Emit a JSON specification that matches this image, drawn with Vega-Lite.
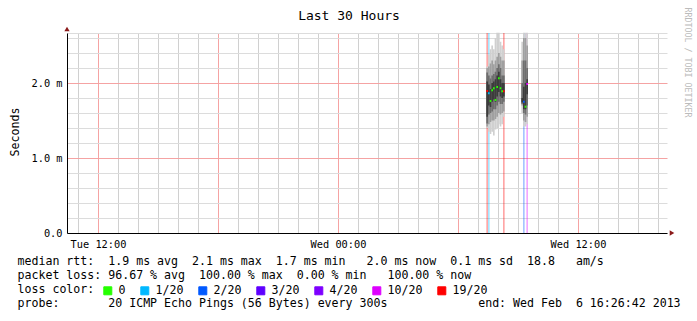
{
  "$schema": "https://vega.github.io/schema/vega-lite/v6.json",
  "width": 600,
  "height": 200,
  "autosize": {"type": "none"},
  "padding": {"left": 67, "top": 33, "right": 30, "bottom": 88},
  "background": "white",
  "config": {"view": {"stroke": null}, "font": "DejaVu Sans Mono"},
  "datasets": {
    "smoke": [
      {"t": "2013-02-06T07:25:00", "t2": "2013-02-06T07:30:00", "lo": 1.40, "hi": 2.22, "b": "b1"},
      {"t": "2013-02-06T07:30:00", "t2": "2013-02-06T07:35:00", "lo": 1.35, "hi": 2.38, "b": "b1"},
      {"t": "2013-02-06T07:35:00", "t2": "2013-02-06T07:40:00", "lo": 1.32, "hi": 2.45, "b": "b1"},
      {"t": "2013-02-06T07:40:00", "t2": "2013-02-06T07:45:00", "lo": 1.35, "hi": 2.50, "b": "b1"},
      {"t": "2013-02-06T07:45:00", "t2": "2013-02-06T07:50:00", "lo": 1.30, "hi": 2.45, "b": "b1"},
      {"t": "2013-02-06T07:50:00", "t2": "2013-02-06T07:55:00", "lo": 1.38, "hi": 2.60, "b": "b1"},
      {"t": "2013-02-06T07:55:00", "t2": "2013-02-06T08:00:00", "lo": 1.40, "hi": 2.67, "b": "b1"},
      {"t": "2013-02-06T08:00:00", "t2": "2013-02-06T08:05:00", "lo": 1.45, "hi": 2.67, "b": "b1"},
      {"t": "2013-02-06T08:05:00", "t2": "2013-02-06T08:10:00", "lo": 1.42, "hi": 2.55, "b": "b1"},
      {"t": "2013-02-06T08:10:00", "t2": "2013-02-06T08:15:00", "lo": 1.45, "hi": 2.50, "b": "b1"},
      {"t": "2013-02-06T08:15:00", "t2": "2013-02-06T08:20:00", "lo": 1.55, "hi": 2.45, "b": "b1"},
      {"t": "2013-02-06T09:10:00", "t2": "2013-02-06T09:15:00", "lo": 1.60, "hi": 2.55, "b": "b1"},
      {"t": "2013-02-06T09:15:00", "t2": "2013-02-06T09:20:00", "lo": 1.42, "hi": 2.67, "b": "b1"},
      {"t": "2013-02-06T09:20:00", "t2": "2013-02-06T09:25:00", "lo": 1.42, "hi": 2.67, "b": "b1"},
      {"t": "2013-02-06T09:25:00", "t2": "2013-02-06T09:30:00", "lo": 1.45, "hi": 2.67, "b": "b1"},
      {"t": "2013-02-06T07:25:00", "t2": "2013-02-06T07:30:00", "lo": 1.42, "hi": 2.20, "b": "b2"},
      {"t": "2013-02-06T07:30:00", "t2": "2013-02-06T07:35:00", "lo": 1.45, "hi": 2.22, "b": "b2"},
      {"t": "2013-02-06T07:35:00", "t2": "2013-02-06T07:40:00", "lo": 1.48, "hi": 2.26, "b": "b2"},
      {"t": "2013-02-06T07:40:00", "t2": "2013-02-06T07:45:00", "lo": 1.50, "hi": 2.30, "b": "b2"},
      {"t": "2013-02-06T07:45:00", "t2": "2013-02-06T07:50:00", "lo": 1.50, "hi": 2.25, "b": "b2"},
      {"t": "2013-02-06T07:50:00", "t2": "2013-02-06T07:55:00", "lo": 1.52, "hi": 2.30, "b": "b2"},
      {"t": "2013-02-06T07:55:00", "t2": "2013-02-06T08:00:00", "lo": 1.55, "hi": 2.35, "b": "b2"},
      {"t": "2013-02-06T08:00:00", "t2": "2013-02-06T08:05:00", "lo": 1.60, "hi": 2.40, "b": "b2"},
      {"t": "2013-02-06T08:05:00", "t2": "2013-02-06T08:10:00", "lo": 1.58, "hi": 2.35, "b": "b2"},
      {"t": "2013-02-06T08:10:00", "t2": "2013-02-06T08:15:00", "lo": 1.60, "hi": 2.30, "b": "b2"},
      {"t": "2013-02-06T08:15:00", "t2": "2013-02-06T08:20:00", "lo": 1.62, "hi": 2.30, "b": "b2"},
      {"t": "2013-02-06T09:10:00", "t2": "2013-02-06T09:15:00", "lo": 1.70, "hi": 2.30, "b": "b2"},
      {"t": "2013-02-06T09:15:00", "t2": "2013-02-06T09:20:00", "lo": 1.50, "hi": 2.60, "b": "b2"},
      {"t": "2013-02-06T09:20:00", "t2": "2013-02-06T09:25:00", "lo": 1.48, "hi": 2.60, "b": "b2"},
      {"t": "2013-02-06T09:25:00", "t2": "2013-02-06T09:30:00", "lo": 1.55, "hi": 2.50, "b": "b2"},
      {"t": "2013-02-06T07:25:00", "t2": "2013-02-06T07:30:00", "lo": 1.46, "hi": 2.14, "b": "b3"},
      {"t": "2013-02-06T07:30:00", "t2": "2013-02-06T07:35:00", "lo": 1.58, "hi": 2.10, "b": "b3"},
      {"t": "2013-02-06T07:35:00", "t2": "2013-02-06T07:40:00", "lo": 1.60, "hi": 2.06, "b": "b3"},
      {"t": "2013-02-06T07:40:00", "t2": "2013-02-06T07:45:00", "lo": 1.62, "hi": 2.10, "b": "b3"},
      {"t": "2013-02-06T07:45:00", "t2": "2013-02-06T07:50:00", "lo": 1.65, "hi": 2.12, "b": "b3"},
      {"t": "2013-02-06T07:50:00", "t2": "2013-02-06T07:55:00", "lo": 1.65, "hi": 2.15, "b": "b3"},
      {"t": "2013-02-06T07:55:00", "t2": "2013-02-06T08:00:00", "lo": 1.70, "hi": 2.20, "b": "b3"},
      {"t": "2013-02-06T08:00:00", "t2": "2013-02-06T08:05:00", "lo": 1.75, "hi": 2.25, "b": "b3"},
      {"t": "2013-02-06T08:05:00", "t2": "2013-02-06T08:10:00", "lo": 1.72, "hi": 2.20, "b": "b3"},
      {"t": "2013-02-06T08:10:00", "t2": "2013-02-06T08:15:00", "lo": 1.72, "hi": 2.10, "b": "b3"},
      {"t": "2013-02-06T08:15:00", "t2": "2013-02-06T08:20:00", "lo": 1.75, "hi": 2.10, "b": "b3"},
      {"t": "2013-02-06T09:10:00", "t2": "2013-02-06T09:15:00", "lo": 1.72, "hi": 2.00, "b": "b3"},
      {"t": "2013-02-06T09:15:00", "t2": "2013-02-06T09:20:00", "lo": 1.60, "hi": 2.30, "b": "b3"},
      {"t": "2013-02-06T09:20:00", "t2": "2013-02-06T09:25:00", "lo": 1.58, "hi": 2.30, "b": "b3"},
      {"t": "2013-02-06T09:25:00", "t2": "2013-02-06T09:30:00", "lo": 1.70, "hi": 2.20, "b": "b3"},
      {"t": "2013-02-06T07:25:00", "t2": "2013-02-06T07:30:00", "lo": 1.55, "hi": 2.02, "b": "b4"},
      {"t": "2013-02-06T07:30:00", "t2": "2013-02-06T07:35:00", "lo": 1.70, "hi": 1.98, "b": "b4"},
      {"t": "2013-02-06T07:35:00", "t2": "2013-02-06T07:40:00", "lo": 1.68, "hi": 1.92, "b": "b4"},
      {"t": "2013-02-06T07:40:00", "t2": "2013-02-06T07:45:00", "lo": 1.75, "hi": 2.00, "b": "b4"},
      {"t": "2013-02-06T07:45:00", "t2": "2013-02-06T07:50:00", "lo": 1.78, "hi": 2.02, "b": "b4"},
      {"t": "2013-02-06T07:50:00", "t2": "2013-02-06T07:55:00", "lo": 1.75, "hi": 2.05, "b": "b4"},
      {"t": "2013-02-06T07:55:00", "t2": "2013-02-06T08:00:00", "lo": 1.82, "hi": 2.10, "b": "b4"},
      {"t": "2013-02-06T08:00:00", "t2": "2013-02-06T08:05:00", "lo": 1.88, "hi": 2.15, "b": "b4"},
      {"t": "2013-02-06T08:05:00", "t2": "2013-02-06T08:10:00", "lo": 1.82, "hi": 2.05, "b": "b4"},
      {"t": "2013-02-06T08:10:00", "t2": "2013-02-06T08:15:00", "lo": 1.80, "hi": 2.00, "b": "b4"},
      {"t": "2013-02-06T08:15:00", "t2": "2013-02-06T08:20:00", "lo": 1.82, "hi": 2.00, "b": "b4"},
      {"t": "2013-02-06T09:10:00", "t2": "2013-02-06T09:15:00", "lo": 1.74, "hi": 1.80, "b": "b4"},
      {"t": "2013-02-06T09:15:00", "t2": "2013-02-06T09:20:00", "lo": 1.65, "hi": 1.95, "b": "b4"},
      {"t": "2013-02-06T09:20:00", "t2": "2013-02-06T09:25:00", "lo": 1.65, "hi": 2.00, "b": "b4"},
      {"t": "2013-02-06T09:25:00", "t2": "2013-02-06T09:30:00", "lo": 1.85, "hi": 2.05, "b": "b4"}
    ],
    "median": [
      {"t": "2013-02-06T07:25:00", "t2": "2013-02-06T07:30:00", "m": 1.893, "loss": "19/20"},
      {"t": "2013-02-06T07:30:00", "t2": "2013-02-06T07:35:00", "m": 1.863, "loss": "1/20"},
      {"t": "2013-02-06T07:35:00", "t2": "2013-02-06T07:40:00", "m": 1.760, "loss": "0"},
      {"t": "2013-02-06T07:40:00", "t2": "2013-02-06T07:45:00", "m": 1.903, "loss": "0"},
      {"t": "2013-02-06T07:45:00", "t2": "2013-02-06T07:50:00", "m": 1.930, "loss": "0"},
      {"t": "2013-02-06T07:50:00", "t2": "2013-02-06T07:55:00", "m": 1.773, "loss": "0"},
      {"t": "2013-02-06T07:55:00", "t2": "2013-02-06T08:00:00", "m": 1.947, "loss": "0"},
      {"t": "2013-02-06T08:00:00", "t2": "2013-02-06T08:05:00", "m": 2.063, "loss": "0"},
      {"t": "2013-02-06T08:05:00", "t2": "2013-02-06T08:10:00", "m": 1.930, "loss": "0"},
      {"t": "2013-02-06T08:10:00", "t2": "2013-02-06T08:15:00", "m": 1.890, "loss": "0"},
      {"t": "2013-02-06T08:15:00", "t2": "2013-02-06T08:20:00", "m": 1.890, "loss": "19/20"},
      {"t": "2013-02-06T09:15:00", "t2": "2013-02-06T09:20:00", "m": 1.750, "loss": "2/20"},
      {"t": "2013-02-06T09:20:00", "t2": "2013-02-06T09:25:00", "m": 1.684, "loss": "0"},
      {"t": "2013-02-06T09:25:00", "t2": "2013-02-06T09:30:00", "m": 1.987, "loss": "10/20"}
    ],
    "one": [{"k": 1}]
  },
  "layer": [
    {
      "data": {"name": "median"},
      "transform": [{"filter": "datum.loss != '0'"}],
      "mark": {"type": "rect", "opacity": 0.35},
      "encoding": {
        "x": {"field": "t", "type": "temporal",
              "scale": {"domain": [{"year": 2013, "month": 2, "date": 5, "hours": 10, "minutes": 27}, {"year": 2013, "month": 2, "date": 6, "hours": 16, "minutes": 27}]},
              "axis": {"orient": "bottom",
                       "values": [
                         {"year": 2013, "month": 2, "date": 5, "hours": 11}, {"year": 2013, "month": 2, "date": 5, "hours": 13},
                         {"year": 2013, "month": 2, "date": 5, "hours": 14}, {"year": 2013, "month": 2, "date": 5, "hours": 15},
                         {"year": 2013, "month": 2, "date": 5, "hours": 16}, {"year": 2013, "month": 2, "date": 5, "hours": 17},
                         {"year": 2013, "month": 2, "date": 5, "hours": 19}, {"year": 2013, "month": 2, "date": 5, "hours": 20},
                         {"year": 2013, "month": 2, "date": 5, "hours": 21}, {"year": 2013, "month": 2, "date": 5, "hours": 22},
                         {"year": 2013, "month": 2, "date": 5, "hours": 23}, {"year": 2013, "month": 2, "date": 6, "hours": 1},
                         {"year": 2013, "month": 2, "date": 6, "hours": 2}, {"year": 2013, "month": 2, "date": 6, "hours": 3},
                         {"year": 2013, "month": 2, "date": 6, "hours": 4}, {"year": 2013, "month": 2, "date": 6, "hours": 5},
                         {"year": 2013, "month": 2, "date": 6, "hours": 7}, {"year": 2013, "month": 2, "date": 6, "hours": 8},
                         {"year": 2013, "month": 2, "date": 6, "hours": 9}, {"year": 2013, "month": 2, "date": 6, "hours": 10},
                         {"year": 2013, "month": 2, "date": 6, "hours": 11}, {"year": 2013, "month": 2, "date": 6, "hours": 13},
                         {"year": 2013, "month": 2, "date": 6, "hours": 14}, {"year": 2013, "month": 2, "date": 6, "hours": 15},
                         {"year": 2013, "month": 2, "date": 6, "hours": 16}
                       ],
                       "grid": true, "gridColor": "#d0d0d0", "gridWidth": 1, "gridOpacity": 1,
                       "domain": false, "ticks": false, "labels": false, "title": null}},
        "x2": {"field": "t2"},
        "y": {"datum": 0, "type": "quantitative", "axis": null, "scale": {"domain": [0, 2.6667], "nice": false, "zero": false}},
        "y2": {"datum": 2.6667},
        "color": {"field": "loss", "type": "nominal",
                  "scale": {"domain": ["0", "1/20", "2/20", "3/20", "4/20", "10/20", "19/20"],
                            "range": ["#26ff00", "#00b8ff", "#0059ff", "#5e00ff", "#7e00ff", "#dd00ff", "#ff0000"]},
                  "legend": {"orient": "none", "legendX": 35, "legendY": 252, "direction": "horizontal", "title": null,
                             "padding": 0, "columnPadding": 12, "gridAlign": "none", "labelOffset": 5, "symbolType": "square", "symbolSize": 64,
                             "symbolOpacity": 1, "symbolStrokeColor": "black", "symbolStrokeWidth": 1,
                             "labelFont": "DejaVu Sans Mono", "labelFontSize": 11.6, "labelColor": "black"}}
      }
    },
    {
      "data": {"name": "smoke"},
      "mark": {"type": "rect"},
      "encoding": {
        "x": {"field": "t", "type": "temporal",
              "scale": {"domain": [{"year": 2013, "month": 2, "date": 5, "hours": 10, "minutes": 27}, {"year": 2013, "month": 2, "date": 6, "hours": 16, "minutes": 27}]},
              "axis": {"orient": "bottom",
                       "values": [
                         {"year": 2013, "month": 2, "date": 5, "hours": 12}, {"year": 2013, "month": 2, "date": 5, "hours": 18},
                         {"year": 2013, "month": 2, "date": 6, "hours": 0}, {"year": 2013, "month": 2, "date": 6, "hours": 6},
                         {"year": 2013, "month": 2, "date": 6, "hours": 12}
                       ],
                       "grid": true, "gridColor": "#f5a3a3", "gridWidth": 1,
                       "ticks": false, "tickSize": 0, "domainColor": "#000000", "domainWidth": 1,
                       "labelExpr": "hours(datum.value) % 12 == 0 ? timeFormat(datum.value, '%a %H:%M') : ''",
                       "labelOverlap": false, "labelFlush": false, "labelPadding": 6, "labelFontSize": 10.3, "labelColor": "black",
                       "labelFont": "DejaVu Sans Mono",
                       "title": ["median rtt:\u00a0\u00a01.9 ms avg\u00a0\u00a02.1 ms max\u00a0\u00a01.7 ms min\u00a0\u00a0\u00a02.0 ms now\u00a0\u00a00.1 ms sd\u00a0\u00a018.8\u00a0\u00a0\u00a0am/s",
                                 "packet loss: 96.67 % avg\u00a0\u00a0100.00 % max\u00a0\u00a00.00 % min\u00a0\u00a0\u00a0100.00 % now",
                                 "loss color:",
                                 "probe:\u00a0\u00a0\u00a0\u00a0\u00a0\u00a0\u00a020 ICMP Echo Pings (56 Bytes) every 300s\u00a0\u00a0\u00a0\u00a0\u00a0\u00a0\u00a0\u00a0\u00a0\u00a0\u00a0\u00a0\u00a0end: Wed Feb\u00a0\u00a06 16:26:42 2013"],
                       "titleX": -50, "titleY": 22.8, "titleAlign": "left", "titleBaseline": "top", "titleAngle": 0,
                       "titleFont": "DejaVu Sans Mono", "titleFontSize": 11.6, "titleFontWeight": "normal", "titleLineHeight": 14, "titleColor": "black"}},
        "x2": {"field": "t2"},
        "y": {"field": "lo", "type": "quantitative",
              "scale": {"domain": [0, 2.6667], "nice": false, "zero": false},
              "axis": {"orient": "left", "values": [0, 0.2, 0.4, 0.6, 0.8, 1, 1.2, 1.4, 1.6, 1.8, 2, 2.2, 2.4, 2.6, 2.6667],
                       "grid": true,
                       "gridColor": {"condition": {"test": "datum.value > 0 && abs(datum.value - round(datum.value)) < 0.001", "value": "#f5a3a3"}, "value": "#dcdcdc"},
                       "ticks": false, "tickSize": 0, "domainColor": "#000000", "domainWidth": 1,
                       "labelExpr": "datum.value == 0 ? '0.0' : (abs(datum.value - round(datum.value)) < 0.001 ? format(datum.value, '.1f') + ' m' : '')",
                       "labelPadding": 5, "labelFontSize": 10.3, "labelColor": "black", "labelFont": "DejaVu Sans Mono", "labelOverlap": false, "labelFlush": false,
                       "title": "Seconds", "titleX": -52, "titleY": 98.5, "titleAngle": 270, "titleAlign": "center", "titleBaseline": "middle",
                       "titleFont": "DejaVu Sans Mono", "titleFontSize": 11.6, "titleFontWeight": "normal", "titleColor": "black"}},
        "y2": {"field": "hi"},
        "fill": {"field": "b", "type": "nominal", "legend": null,
                 "scale": {"domain": ["b1", "b2", "b3", "b4"], "range": ["#d0d0d0", "#a0a0a0", "#6e6e6e", "#3c3c3c"]}}
      }
    },
    {
      "data": {"name": "median"},
      "mark": {"type": "rule", "strokeWidth": 2},
      "encoding": {
        "x": {"field": "t", "type": "temporal", "axis": null,
              "scale": {"domain": [{"year": 2013, "month": 2, "date": 5, "hours": 10, "minutes": 27}, {"year": 2013, "month": 2, "date": 6, "hours": 16, "minutes": 27}]}},
        "x2": {"field": "t2"},
        "y": {"field": "m", "type": "quantitative", "axis": null, "scale": {"domain": [0, 2.6667], "nice": false, "zero": false}},
        "color": {"field": "loss", "type": "nominal", "legend": null,
                  "scale": {"domain": ["0", "1/20", "2/20", "3/20", "4/20", "10/20", "19/20"],
                            "range": ["#26ff00", "#00b8ff", "#0059ff", "#5e00ff", "#7e00ff", "#dd00ff", "#ff0000"]}}
      }
    },
    {
      "data": {"name": "one"},
      "mark": {"type": "point", "shape": "triangle-up", "filled": true, "size": 28, "color": "#8b1a1a", "opacity": 1},
      "encoding": {
        "x": {"datum": {"year": 2013, "month": 2, "date": 5, "hours": 10, "minutes": 27}, "type": "temporal",
              "scale": {"domain": [{"year": 2013, "month": 2, "date": 5, "hours": 10, "minutes": 27}, {"year": 2013, "month": 2, "date": 6, "hours": 16, "minutes": 27}]},
              "axis": {"orient": "top", "domain": false, "ticks": false, "labels": false, "grid": false,
                       "title": "Last 30 Hours", "titleX": 281.5, "titleY": -14, "titleAlign": "center", "titleBaseline": "alphabetic",
                       "titleFont": "DejaVu Sans Mono", "titleFontSize": 13, "titleFontWeight": "normal", "titleColor": "black"}},
        "y": {"datum": 2.72, "type": "quantitative", "scale": {"domain": [0, 2.6667], "nice": false, "zero": false},
              "axis": {"orient": "right", "domain": false, "ticks": false, "labels": false, "grid": false,
                       "title": "RRDTOOL / TOBI OETIKER", "titleX": 19, "titleY": -26, "titleAngle": 90, "titleAlign": "left", "titleBaseline": "middle",
                       "titleFont": "DejaVu Sans Mono", "titleFontSize": 8.3, "titleFontWeight": "normal", "titleColor": "#bbbbbb"}}
      }
    },
    {
      "data": {"name": "one"},
      "mark": {"type": "point", "shape": "triangle-right", "filled": true, "size": 28, "color": "#8b1a1a", "opacity": 1},
      "encoding": {
        "x": {"datum": {"year": 2013, "month": 2, "date": 6, "hours": 16, "minutes": 42}, "type": "temporal", "axis": null,
              "scale": {"domain": [{"year": 2013, "month": 2, "date": 5, "hours": 10, "minutes": 27}, {"year": 2013, "month": 2, "date": 6, "hours": 16, "minutes": 27}]}},
        "y": {"datum": 0, "type": "quantitative", "axis": null, "scale": {"domain": [0, 2.6667], "nice": false, "zero": false}}
      }
    }
  ],
  "resolve": {"axis": {"x": "independent", "y": "independent"}}
}
